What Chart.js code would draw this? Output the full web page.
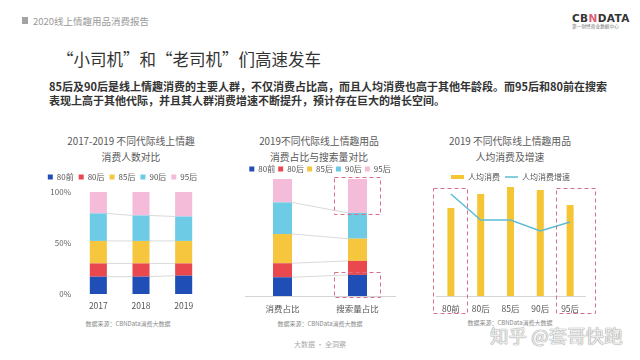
<!DOCTYPE html>
<html lang="zh-CN">
<head>
<meta charset="utf-8">
<script src="https://cdn.jsdelivr.net/npm/chart.js@4.4.1/dist/chart.umd.min.js"></script>
<style>
  html, body { margin: 0; padding: 0; background: #fff; }
  body { width: 640px; height: 360px; position: relative; overflow: hidden;
         font-family: "Noto Sans CJK SC", "Noto Sans", sans-serif; }
  .abs { position: absolute; white-space: nowrap; }
  canvas { position: absolute; }
  .ctitle { width: 200px; text-align: center; font-size: 9.8px; line-height: 16px; color: #595959; top: 133px; }
  .src { font-size: 6px; line-height: 8px; color: #8a8a8a; width: 120px; text-align: center; top: 320px; }
</style>
</head>
<body>
<div class="abs" style="left:22px;top:17px;width:6px;height:7px;background:#a3a3a3"></div>
<div class="abs" style="left:33px;top:15px;font-size:9.5px;line-height:12px;color:#9a9a9a">2020线上情趣用品消费报告</div>
<div class="abs" style="left:572px;top:12px;font-size:10.5px;line-height:12px;font-weight:bold;color:#333;letter-spacing:0.4px;font-family:'DejaVu Sans',sans-serif">CB<span style="color:#e0607a">N</span>DATA</div>
<div class="abs" style="left:572px;top:23px;font-size:9.4px;line-height:12px;color:#777;transform:scale(0.5);transform-origin:0 0">第一财经商业数据中心</div>

<div class="abs" style="left:57px;top:49px;font-size:16.5px;line-height:20px;color:#333">“小司机”和“老司机”们高速发车</div>
<div class="abs" style="left:49px;top:80px;font-size:11px;line-height:13.5px;color:#333;font-weight:bold">85后及90后是线上情趣消费的主要人群，不仅消费占比高，而且人均消费也高于其他年龄段。而95后和80前在搜索<br>表现上高于其他代际，并且其人群消费增速不断提升，预计存在巨大的增长空间。</div>

<div class="abs ctitle" style="left:31px">2017-2019 不同代际线上情趣<br>消费人数对比</div>
<div class="abs ctitle" style="left:219px">2019不同代际线上情趣用品<br>消费占比与搜索量对比</div>
<div class="abs ctitle" style="left:410px">2019 不同代际线上情趣用品<br>人均消费及增速</div>

<canvas id="c1" width="180" height="144" style="left:40px;top:168px"></canvas>
<canvas id="c2" width="180" height="154" style="left:230px;top:162px"></canvas>
<canvas id="c3" width="190" height="150" style="left:420px;top:168px"></canvas>

<div class="abs src" style="left:68px">数据来源：CBNData消费大数据</div>
<div class="abs src" style="left:260px">数据来源：CBNData消费大数据</div>
<div class="abs src" style="left:450px;top:319px">数据来源：CBNData消费大数据</div>
<div class="abs" style="left:280px;width:80px;text-align:center;top:340px;font-size:7px;line-height:9px;color:#aaa">大数据 · 全洞察</div>
<div class="abs" style="left:490px;top:323px;font-size:18.5px;line-height:24px;color:rgba(250,250,250,0.9);text-shadow:0 0 1px #888,0 0 1px #999">知乎 @套哥快跑</div>

<script>
Chart.defaults.font.family = '"Noto Sans CJK SC", "Noto Sans", sans-serif';
Chart.defaults.color = '#555';

const generations = ['80前', '80后', '85后', '90后', '95后'];
const genColors = ['#1f4fb6', '#e9494e', '#f5c63e', '#6dcbe6', '#f4bcd9'];

// chart 1: share of buyers by generation, per year (%)
const years = ['2017', '2018', '2019'];
const share2017 = [17, 13, 22, 27, 21];
const share2018 = [17, 13, 22, 25, 23];
const share2019 = [18, 12, 22, 24, 24];
const yearShares = [share2017, share2018, share2019];
const pctTicks = [0, 50, 100];

// chart 2: consumption share vs search share, 2019 (%)
const compareLabels = ['消费占比', '搜索量占比'];
const consumeShare = [16, 12, 25, 27, 20];
const searchShare = [18, 12, 19, 22, 29];

// chart 3: spend per head and growth, 2019
const spendPerHead = [88, 102, 109, 106, 91];
const spendGrowth = [102, 76, 76, 65, 74];

// fixed legend height so the plot area starts where it should
const legendHeight = (h) => ({
    id: 'legendHeight',
    beforeInit(chart) {
        const fit = chart.legend.fit;
        chart.legend.fit = function () {
            fit.call(this);
            this.height = h;
        };
    }
});

// thin grey lines joining segment tops of neighbouring bars
const connectors = {
    id: 'connectors',
    beforeDatasetsDraw(chart) {
        const ctx = chart.ctx;
        const n = chart.data.datasets.length;
        ctx.save();
        ctx.strokeStyle = '#cfcfcf';
        ctx.lineWidth = 0.8;
        for (let d = 0; d < n - 1; d++) {
            const bars = chart.getDatasetMeta(d).data;
            for (let i = 0; i < bars.length - 1; i++) {
                const a = bars[i], b = bars[i + 1];
                ctx.beginPath();
                ctx.moveTo(a.x + a.width / 2, a.y);
                ctx.lineTo(b.x - b.width / 2, b.y);
                ctx.stroke();
            }
        }
        ctx.restore();
    }
};

const dashedBoxes = {
    id: 'dashedBoxes',
    afterDatasetsDraw(chart, args, opts) {
        const { ctx, chartArea } = chart;
        const x = chart.scales.x, y = chart.scales.y;
        ctx.save();
        ctx.strokeStyle = '#d8708a';
        ctx.lineWidth = 1;
        ctx.setLineDash([4, 3]);
        (opts.boxes || []).forEach(b => {
            const cx = x.getPixelForValue(b.index);
            const top = (b.from === undefined ? chartArea.top : y.getPixelForValue(b.from)) - b.padTop;
            const bottom = (b.to === undefined ? chartArea.bottom : y.getPixelForValue(b.to)) + b.padBottom;
            ctx.strokeRect(Math.round(cx + b.left) + 0.5, Math.round(top) + 0.5,
                Math.round(b.right - b.left), Math.round(bottom - top));
        });
        ctx.restore();
    }
};

const xAxis = (pad, height, border) => ({
    grid: { display: false, drawTicks: false, tickLength: 0 },
    border: border ? { display: true, color: '#d4d4d4' } : { display: false },
    ticks: { padding: pad, font: { size: 8.5 }, color: '#555', maxRotation: 0 },
    afterFit: (s) => { s.height = height; }
});

new Chart(document.getElementById('c1'), {
    type: 'bar',
    data: {
        labels: years,
        datasets: generations.map((g, k) => ({
            label: g,
            data: yearShares.map(s => s[k]),
            backgroundColor: genColors[k],
            barPercentage: 0.4,
            categoryPercentage: 1
        }))
    },
    options: {
        responsive: false,
        animation: false,
        devicePixelRatio: 1,
        layout: { padding: { right: 15 } },
        plugins: {
            legend: { position: 'top', labels: { boxWidth: 5, boxHeight: 5, padding: 5, font: { size: 8 }, color: '#555' } },
            tooltip: { enabled: false }
        },
        scales: {
            x: Object.assign({ stacked: true }, xAxis(7, 18, false)),
            y: {
                stacked: true,
                min: 0,
                max: 100,
                afterBuildTicks: (s) => { s.ticks = pctTicks.map(v => ({ value: v })); },
                afterFit: (s) => { s.width = 37; },
                grid: { display: false, drawTicks: false },
                border: { display: false },
                ticks: { padding: 6, font: { size: 8 }, color: '#666', callback: v => v + '%' }
            }
        }
    },
    plugins: [legendHeight(24), connectors]
});

new Chart(document.getElementById('c2'), {
    type: 'bar',
    data: {
        labels: compareLabels,
        datasets: generations.map((g, k) => ({
            label: g,
            data: [consumeShare[k], searchShare[k]],
            backgroundColor: genColors[k],
            barPercentage: 0.253,
            categoryPercentage: 1
        }))
    },
    options: {
        responsive: false,
        animation: false,
        devicePixelRatio: 1,
        layout: { padding: { left: 15, right: 15 } },
        plugins: {
            legend: { position: 'top', labels: { boxWidth: 5, boxHeight: 5, padding: 3, font: { size: 8 }, color: '#555' } },
            tooltip: { enabled: false },
            dashedBoxes: {
                boxes: [
                    { index: 1, from: 100, to: 100 - searchShare[4], left: -24, right: 22, padTop: 2, padBottom: 1 },
                    { index: 1, from: searchShare[0], to: 0, left: -24, right: 22, padTop: 3, padBottom: 1 }
                ]
            }
        },
        scales: {
            x: Object.assign({ stacked: true }, xAxis(8, 20, true)),
            y: { stacked: true, display: false, min: 0, max: 100 }
        }
    },
    plugins: [legendHeight(17), connectors, dashedBoxes]
});

new Chart(document.getElementById('c3'), {
    type: 'bar',
    data: {
        labels: generations,
        datasets: [{
            label: '人均消费',
            data: spendPerHead,
            backgroundColor: '#f5c534',
            barPercentage: 0.235,
            categoryPercentage: 1,
            pointStyle: 'rect',
            order: 1
        }, {
            type: 'line',
            label: '人均消费增速',
            data: spendGrowth,
            borderColor: '#5cbcd7',
            backgroundColor: '#5cbcd7',
            borderWidth: 1.5,
            pointRadius: 0,
            tension: 0,
            pointStyle: 'line',
            order: 0
        }]
    },
    options: {
        responsive: false,
        animation: false,
        devicePixelRatio: 1,
        layout: { padding: { left: 16, right: 25 } },
        plugins: {
            legend: {
                position: 'top',
                labels: {
                    usePointStyle: true, pointStyleWidth: 13, boxHeight: 4, padding: 5,
                    font: { size: 8 }, color: '#555',
                    sort: (a, b) => a.datasetIndex - b.datasetIndex
                }
            },
            tooltip: { enabled: false },
            dashedBoxes: {
                boxes: [
                    { index: 0, left: -18, right: 16, padTop: -2, padBottom: 17 },
                    { index: 4, left: -14, right: 25, padTop: -2, padBottom: 17 }
                ]
            }
        },
        scales: {
            x: xAxis(8, 22, true),
            y: { display: false, min: 0, max: 110 }
        }
    },
    plugins: [legendHeight(18), dashedBoxes]
});
</script>
</body>
</html>
